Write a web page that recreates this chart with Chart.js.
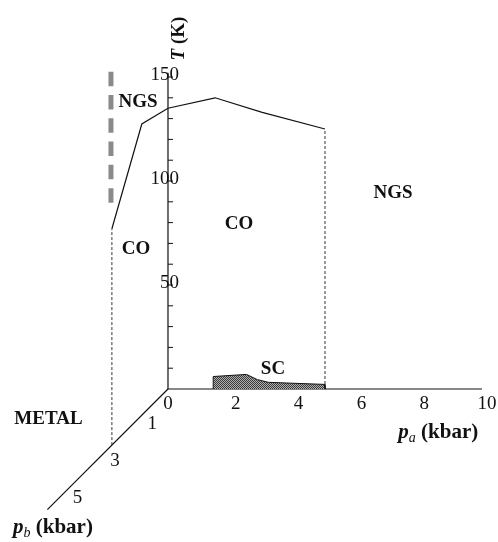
<!DOCTYPE html>
<html>
<head>
<meta charset="utf-8">
<script src="https://cdn.jsdelivr.net/npm/chart.js@4.4.0/dist/chart.umd.min.js"></script>
<style>
  html, body { margin: 0; padding: 0; background: #fff; }
  #wrap { width: 498px; height: 542px; position: relative; }
</style>
</head>
<body>
<div id="wrap"><canvas id="phaseChart"></canvas></div>
<script>
// --- DATA ---
// axis ticks
const paTicks = [0, 2, 4, 6, 8, 10];
const pbTicks = [1, 3, 5];
const tTicks = [50, 100, 150];
const tMinorTicks = [10, 20, 30, 40, 50, 60, 70, 80, 90, 100, 110, 120, 130, 140, 150];
const paAxisMax = 10;
const pbAxisMax = 6.45;
const tAxisMax = 152;

// phase boundary CO / NGS  (pa, pb, T)
const boundaryPa = [0, 0, 0, 1.5, 3, 5];
const boundaryPb = [3, 1.4, 0, 0, 0, 0];
const boundaryT = [104, 140, 135, 140, 133, 125];

// SC dome, pb = 0
const scPa = [1.44, 1.44, 2.5, 2.85, 3.2, 5, 5];
const scT = [0, 6, 7, 4.5, 3.2, 2.2, 0];

// vertical dotted limits
const dropPa = 5, dropPaT = 125;
const dropPb = 3, dropPbT = 104;

// grey dashed boundary (pb ~ 3)
const glassPb = 3.05;
const glassT = [180, 117];

// --- PROJECTION (oblique view, pb goes down-left) ---
const PB_DX = -0.5955; // kbar of pa per kbar of pb
const PB_DY = -8.99;   // K per kbar of pb
const proj = (pa, pb, t) => ({ x: pa + PB_DX * pb, y: t + PB_DY * pb });

const INK = '#111';
const SERIF = '"Liberation Serif", "Times New Roman", serif';

// motif hachuré de la zone SC
const makePattern = () => {
    const c = document.createElement('canvas');
    c.width = 2; c.height = 2;
    const g = c.getContext('2d');
    g.fillStyle = '#b0b0b0'; g.fillRect(0, 0, 2, 2);
    g.fillStyle = '#3a3a3a'; g.fillRect(0, 0, 1, 1); g.fillRect(1, 1, 1, 1);
    return g.createPattern(c, 'repeat');
};

const line = (data, extra) => Object.assign({
    data: data,
    showLine: true,
    pointRadius: 0,
    borderColor: INK,
    borderWidth: 1.2,
    fill: false,
    tension: 0
}, extra || {});

// tick marks on T axis (segments split by gaps)
const tickSegs = [];
tMinorTicks.forEach(t => {
    tickSegs.push({ x: 0, y: t }, { x: 0.16, y: t }, { x: 0.08, y: null });
});

const datasets = [
    // SC region
    line(scPa.map((p, i) => proj(p, 0, scT[i])), { fill: 'origin', backgroundColor: makePattern(), borderWidth: 1 }),
    // axes
    line([proj(0, 0, 0), proj(paAxisMax, 0, 0)]),
    line([proj(0, 0, 0), proj(0, pbAxisMax, 0)]),
    line([proj(0, 0, 0), proj(0, 0, tAxisMax)]),
    line(tickSegs, { borderWidth: 1 }),
    // dotted drops
    line([proj(dropPa, 0, 0), proj(dropPa, 0, dropPaT)], { borderDash: [3, 2], borderWidth: 1, borderColor: '#333' }),
    line([proj(0, dropPb, 0), proj(0, dropPb, dropPbT)], { borderDash: [3, 2], borderWidth: 1, borderColor: '#333' }),
    // boundary
    line(boundaryPa.map((p, i) => proj(p, boundaryPb[i], boundaryT[i]))),
    // grey dashed line
    line(glassT.map(t => proj(0, glassPb, t)), { borderColor: '#8a8a8a', borderWidth: 5, borderDash: [14.5, 8.8] })
];

// --- TEXT ---
const bold = (s) => `bold ${s}px ${SERIF}`;
const regionLabels = [
    { text: 'NGS', x: -0.955, y: 138.0 },
    { text: 'NGS', x: 7.166, y: 94.2 },
    { text: 'CO', x: 2.261, y: 79.1 },
    { text: 'CO', x: -1.019, y: 67.3 },
    { text: 'SC', x: 3.344, y: 9.6 },
    { text: 'METAL', x: -3.806, y: -14.7 }
];

const drawRuns = (ctx, x, y, runs, align) => {
    let total = 0;
    runs.forEach(r => { ctx.font = r.font; total += ctx.measureText(r.t).width; });
    let cx = align === 'center' ? x - total / 2 : x;
    runs.forEach(r => {
        ctx.font = r.font;
        ctx.textAlign = 'left';
        ctx.fillText(r.t, cx, y + (r.dy || 0));
        cx += ctx.measureText(r.t).width;
    });
};

const textPlugin = {
    id: 'phaseText',
    afterDatasetsDraw(chart) {
        const { ctx, scales } = chart;
        const X = v => scales.x.getPixelForValue(v);
        const Y = v => scales.y.getPixelForValue(v);
        ctx.save();
        ctx.fillStyle = INK;

        // pa tick labels
        ctx.font = `19px ${SERIF}`;
        ctx.textAlign = 'center';
        ctx.textBaseline = 'middle';
        paTicks.forEach(v => ctx.fillText(String(v), X(v) + (v === 0 ? 0 : 5), Y(-7.2)));

        // T tick labels
        ctx.textAlign = 'right';
        tTicks.forEach(v => ctx.fillText(String(v), X(0.35), Y(v + 1)));

        // pb tick labels
        ctx.textAlign = 'center';
        pbTicks.forEach(v => {
            const p = proj(0, v, 0);
            ctx.fillText(String(v), X(p.x) + 3, Y(p.y) + 16);
        });

        // region names
        ctx.font = bold(19);
        regionLabels.forEach(l => ctx.fillText(l.text, X(l.x), Y(l.y)));

        // axis titles
        ctx.textBaseline = 'alphabetic';
        drawRuns(ctx, X(7.334), Y(-23.7), [
            { t: 'p', font: `italic bold 21px ${SERIF}` },
            { t: 'a', font: `italic 14px ${SERIF}`, dy: 4 },
            { t: ' (kbar)', font: bold(21) }
        ], 'left');
        drawRuns(ctx, X(-4.936), Y(-69.2), [
            { t: 'p', font: `italic bold 21px ${SERIF}` },
            { t: 'b', font: `italic 14px ${SERIF}`, dy: 4 },
            { t: ' (kbar)', font: bold(21) }
        ], 'left');

        ctx.translate(X(0.35), Y(168.5));
        ctx.rotate(-Math.PI / 2);
        ctx.textBaseline = 'middle';
        drawRuns(ctx, 0, 0, [
            { t: 'T', font: `italic bold 19px ${SERIF}` },
            { t: ' (K)', font: bold(19) }
        ], 'center');
        ctx.restore();
    }
};

new Chart(document.getElementById('phaseChart'), {
    type: 'scatter',
    data: { datasets: datasets },
    options: {
        responsive: true,
        maintainAspectRatio: false,
        animation: false,
        layout: { padding: 0 },
        plugins: { legend: { display: false }, tooltip: { enabled: false } },
        scales: {
            x: { type: 'linear', min: -5.350, max: 10.510, display: false },
            y: { type: 'linear', min: -73.56, max: 187.02, display: false }
        }
    },
    plugins: [textPlugin]
});
</script>
</body>
</html>
